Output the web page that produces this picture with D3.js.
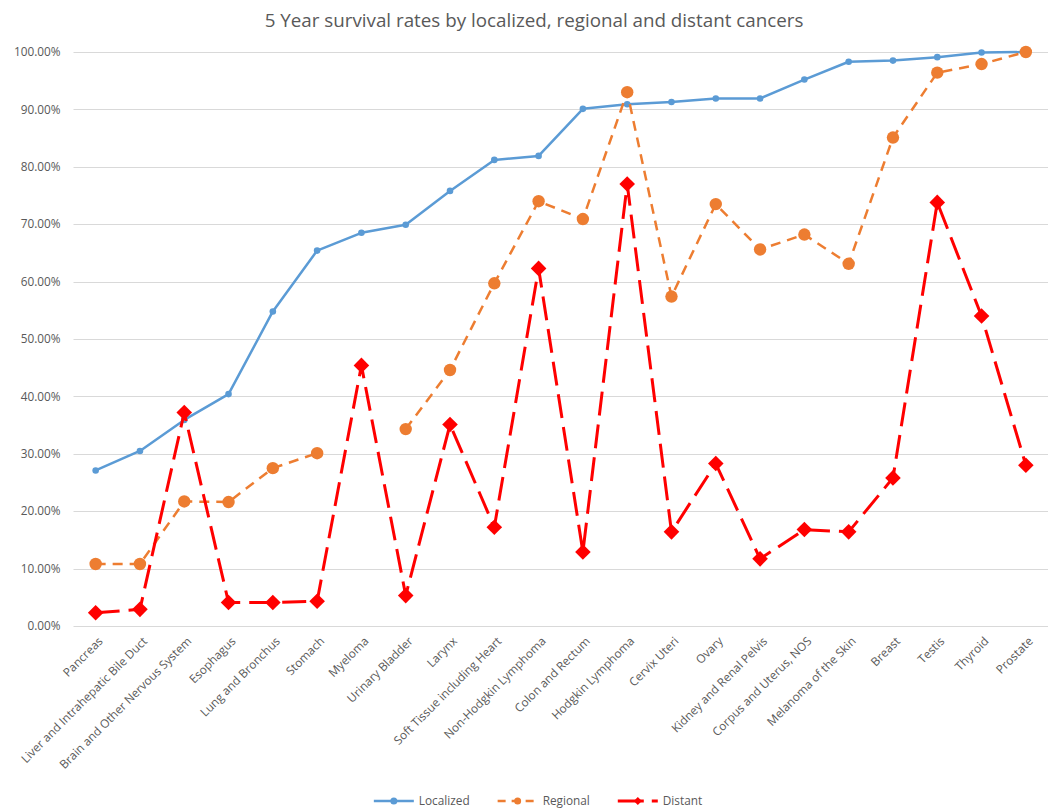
<!DOCTYPE html>
<html>
<head>
<meta charset="utf-8">
<script src="https://cdn.jsdelivr.net/npm/d3@7"></script>
<style>
  body { margin: 0; background: #fff; }
  svg { font-family: "Open Sans", "Noto Sans", sans-serif; }
  .grid line { stroke: #d9d9d9; stroke-width: 1; }
  .tick-label { fill: #595959; font-size: 11.8px; }
</style>
</head>
<body>
<svg width="1048" height="810"></svg>
<script>
// Chart data
const CATEGORIES = [
  "Pancreas", "Liver and Intrahepatic Bile Duct", "Brain and Other Nervous System",
  "Esophagus", "Lung and Bronchus", "Stomach", "Myeloma", "Urinary Bladder", "Larynx",
  "Soft Tissue including Heart", "Non-Hodgkin Lymphoma", "Colon and Rectum",
  "Hodgkin Lymphoma", "Cervix Uteri", "Ovary", "Kidney and Renal Pelvis",
  "Corpus and Uterus, NOS", "Melanoma of the Skin", "Breast", "Testis", "Thyroid", "Prostate"
];
const LOCALIZED = [27.1, 30.5, 35.9, 40.4, 54.8, 65.4, 68.5, 69.9, 75.8, 81.2, 81.9, 90.1,
  90.9, 91.3, 91.9, 91.9, 95.2, 98.3, 98.5, 99.1, 99.9, 100];
const REGIONAL = [10.8, 10.8, 21.7, 21.6, 27.5, 30.1, null, 34.3, 44.6, 59.7, 74.0, 70.9,
  93.0, 57.4, 73.5, 65.6, 68.2, 63.1, 85.1, 96.4, 97.9, 100];
const DISTANT = [2.3, 2.9, 37.2, 4.1, 4.1, 4.3, 45.4, 5.3, 35.1, 17.2, 62.3, 12.9,
  77.0, 16.4, 28.3, 11.7, 16.8, 16.4, 25.8, 73.8, 54.0, 28.0];
const Y_TICKS = [0, 10, 20, 30, 40, 50, 60, 70, 80, 90, 100];
const TITLE = "5 Year survival rates by localized, regional and distant cancers";

const series = [
  { name: "Localized", values: LOCALIZED, color: "#5b9bd5", width: 2.5, dash: null, marker: "circle", size: 3.3 },
  { name: "Regional", values: REGIONAL, color: "#ed7d31", width: 2.5, dash: "10,7", marker: "circle", size: 6.2 },
  { name: "Distant", values: DISTANT, color: "#ff0000", width: 3, dash: "24,9", marker: "diamond", size: 7.8 }
];

const svg = d3.select("svg");
const margin = { top: 52, right: 0, bottom: 184, left: 73.5 };
const width = 1048 - margin.left - margin.right;
const height = 810 - margin.top - margin.bottom;

const x = d3.scalePoint().domain(CATEGORIES).range([0, width]).padding(0.5);
const y = d3.scaleLinear().domain([0, 100]).range([height, 0]);

const g = svg.append("g").attr("transform", `translate(${margin.left},${margin.top})`);

// Title
svg.append("text")
  .attr("x", 534).attr("y", 27)
  .attr("text-anchor", "middle")
  .style("font-size", "18.8px")
  .style("fill", "#595959")
  .text(TITLE);

// Gridlines and y labels
g.append("g").attr("class", "grid")
  .selectAll("line").data(Y_TICKS).enter()
  .append("line")
    .attr("x1", 0).attr("x2", width)
    .attr("y1", d => Math.round(y(d)) + 0.5).attr("y2", d => Math.round(y(d)) + 0.5);

g.append("g")
  .selectAll("text").data(Y_TICKS).enter()
  .append("text")
    .attr("class", "tick-label")
    .attr("x", -13)
    .attr("y", d => y(d))
    .attr("dy", "0.35em")
    .attr("text-anchor", "end")
    .text(d => d3.format(".2f")(d) + "%");

// Category labels
g.append("g")
  .selectAll("text").data(CATEGORIES).enter()
  .append("text")
    .attr("class", "tick-label")
    .attr("text-anchor", "end")
    .attr("transform", d => `translate(${x(d) + 5},${height + 13}) rotate(-45)`)
    .attr("dy", "0.35em")
    .text(d => d);

// Lines and markers
const diamond = s => `M0,${-s}L${s},0L0,${s}L${-s},0Z`;

function drawMarker(sel, s) {
  if (s.marker === "diamond") {
    sel.append("path").attr("d", diamond(s.size)).attr("fill", s.color);
  } else {
    sel.append("circle").attr("r", s.size).attr("fill", s.color);
  }
}

series.forEach(s => {
  const line = d3.line()
    .defined(d => d != null)
    .x((d, i) => x(CATEGORIES[i]))
    .y(d => y(d));
  g.append("path")
    .datum(s.values)
    .attr("fill", "none")
    .attr("stroke", s.color)
    .attr("stroke-width", s.width)
    .attr("stroke-dasharray", s.dash)
    .attr("stroke-linejoin", "round")
    .attr("d", line);
  g.append("g")
    .selectAll("g")
    .data(s.values.map((v, i) => ({ v, c: CATEGORIES[i] })).filter(d => d.v != null))
    .enter()
    .append("g")
      .attr("transform", d => `translate(${x(d.c)},${y(d.v)})`)
      .each(function() { drawMarker(d3.select(this), s); });
});

// Legend
const legend = svg.append("g").attr("transform", "translate(0,801)");
const items = legend.selectAll("g").data(series).enter().append("g");
items.append("line")
  .attr("x1", 0).attr("x2", 40)
  .attr("stroke", d => d.color)
  .attr("stroke-width", d => d.width)
  .attr("stroke-dasharray", d => d.dash ? (d.marker === "diamond" ? "26,8" : "8,6") : null);
items.each(function(d) {
  const m = d3.select(this).append("g").attr("transform", "translate(20,0)");
  drawMarker(m, Object.assign({}, d, { size: d.marker === "diamond" ? 4 : 3.5 }));
});
items.append("text")
  .attr("class", "tick-label")
  .attr("x", 45)
  .attr("dy", "0.35em")
  .text(d => d.name);

let widths = [];
items.each(function() { widths.push(this.getBBox().width); });
const gap = 28;
const total = d3.sum(widths) + gap * (widths.length - 1);
let cursor = 524 - total / 2 + 14;
items.attr("transform", (d, i) => {
  const t = `translate(${cursor},0)`;
  cursor += widths[i] + gap;
  return t;
});
</script>
</body>
</html>
